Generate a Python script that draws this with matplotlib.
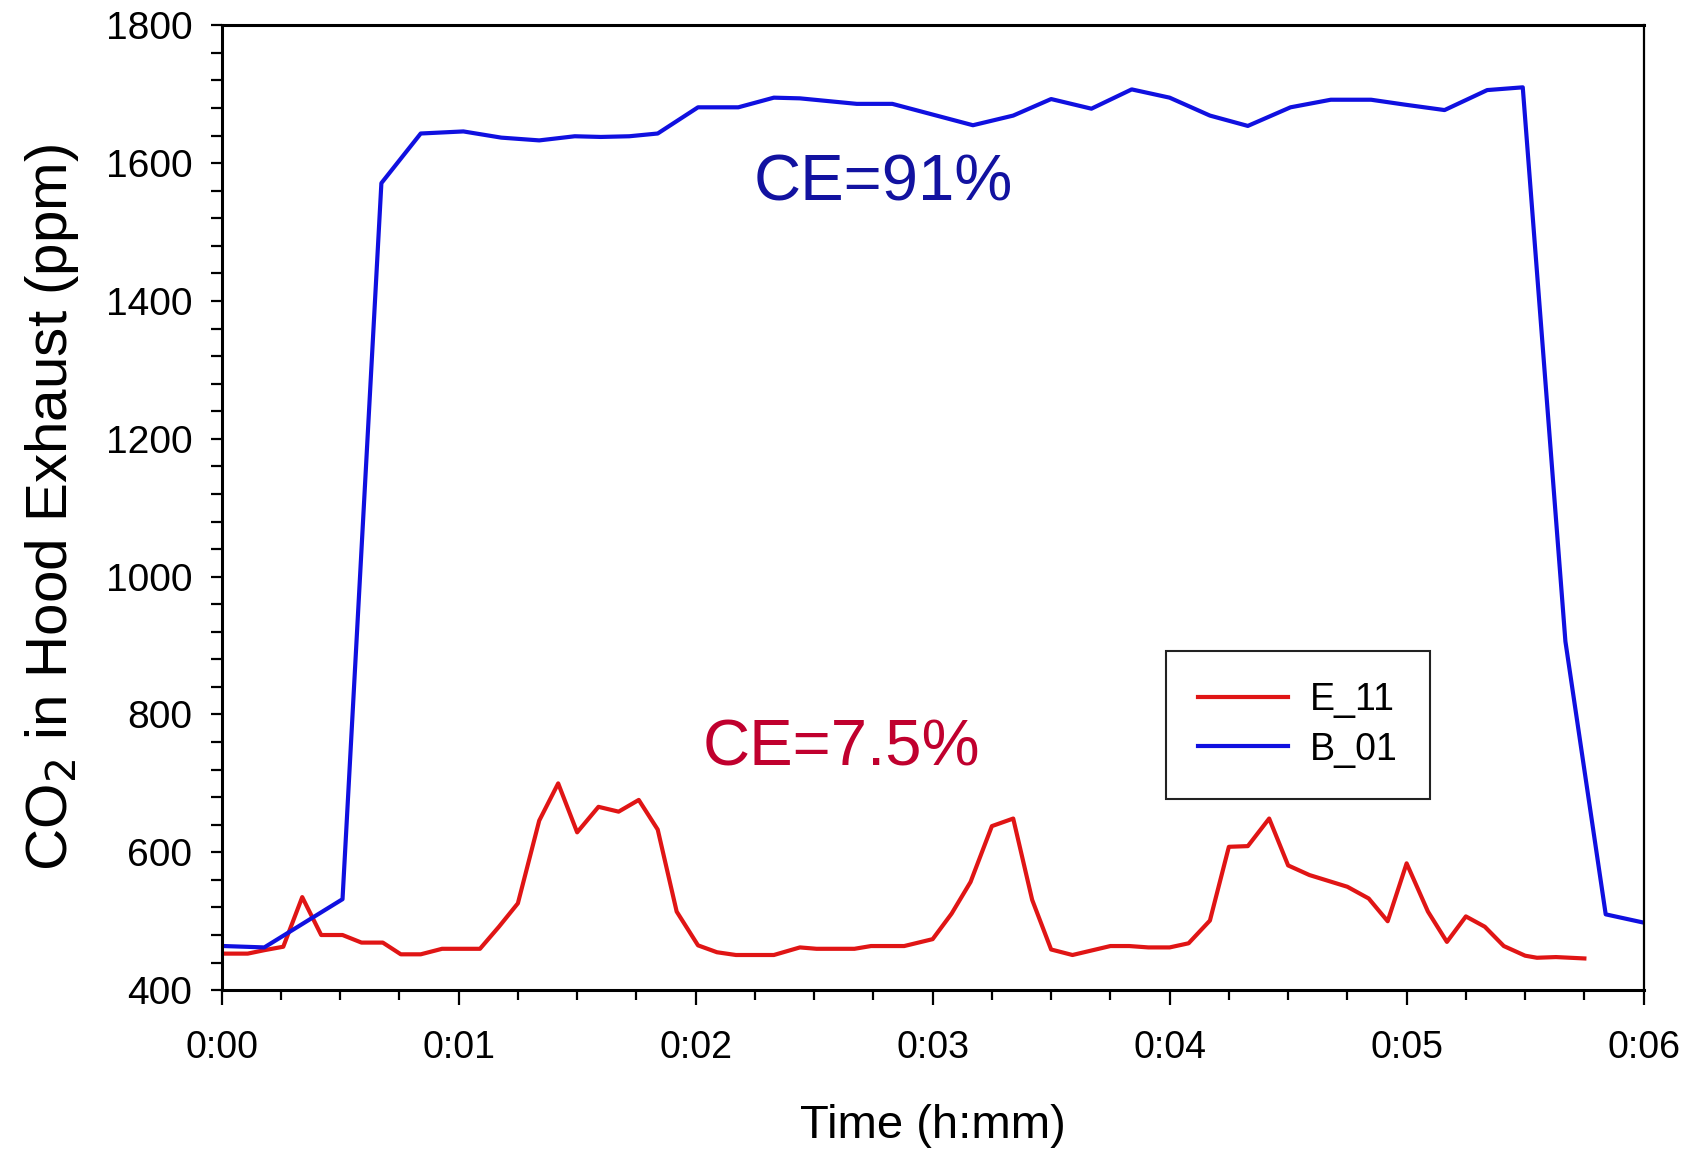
import matplotlib.pyplot as plt
from matplotlib.ticker import MultipleLocator

plt.rcParams['font.family'] = ['Liberation Sans', 'DejaVu Sans']

# time in minutes, CO2 in ppm
b01_t = [0.01, 0.18, 0.51, 0.674, 0.84, 1.02, 1.18, 1.34, 1.49, 1.60, 1.72, 1.84,
         2.01, 2.18, 2.33, 2.44, 2.68, 2.83, 3.17, 3.34, 3.50, 3.67, 3.84, 4.00,
         4.17, 4.33, 4.51, 4.68, 4.85, 4.99, 5.16, 5.34, 5.49, 5.67, 5.84, 6.00]
b01_co2 = [464, 462, 532, 1571, 1643, 1646, 1637, 1633, 1639, 1638, 1639, 1643,
           1681, 1681, 1695, 1694, 1686, 1686, 1655, 1669, 1693, 1679, 1707, 1695,
           1669, 1654, 1681, 1692, 1692, 1685, 1677, 1706, 1710, 906, 510, 498]

e11_t = [0.01, 0.11, 0.18, 0.26, 0.34, 0.42, 0.51, 0.59, 0.68, 0.756, 0.84, 0.93,
         1.09, 1.17, 1.25, 1.34, 1.42, 1.50, 1.59, 1.675, 1.76, 1.84, 1.92, 2.01,
         2.09, 2.17, 2.33, 2.44, 2.51, 2.67, 2.74, 2.88, 3.00, 3.08, 3.16, 3.25,
         3.34, 3.42, 3.50, 3.59, 3.75, 3.83, 3.91, 4.00, 4.08, 4.17, 4.25, 4.33,
         4.42, 4.50, 4.59, 4.75, 4.84, 4.92, 5.00, 5.09, 5.17, 5.25, 5.33, 5.41,
         5.50, 5.55, 5.63, 5.75]
e11_co2 = [453, 453, 458, 463, 535, 480, 480, 469, 469, 452, 452, 460,
           460, 492, 526, 646, 700, 629, 666, 659, 676, 633, 514, 465,
           455, 451, 451, 462, 460, 460, 464, 464, 474, 511, 557, 638,
           649, 531, 459, 451, 464, 464, 462, 462, 468, 501, 608, 609,
           649, 581, 567, 550, 533, 500, 584, 514, 470, 507, 492, 464,
           450, 447, 448, 446]

xtick_pos = [0, 1, 2, 3, 4, 5, 6]
xtick_labels = ["0:00", "0:01", "0:02", "0:03", "0:04", "0:05", "0:06"]

fig = plt.figure(figsize=(17.05, 11.5), dpi=100)
ax = fig.add_axes([0.130, 0.139, 0.834, 0.839])

ax.plot(e11_t, e11_co2, color="#e01515", lw=3, label="E_11")
ax.plot(b01_t, b01_co2, color="#1010e0", lw=3, label="B_01")

ax.set_xlim(0, 6)
ax.set_ylim(400, 1800)
ax.set_xticks(xtick_pos)
ax.set_xticklabels(xtick_labels)
ax.xaxis.set_minor_locator(MultipleLocator(0.25))
ax.yaxis.set_major_locator(MultipleLocator(200))
ax.yaxis.set_minor_locator(MultipleLocator(40))

ax.tick_params(axis="x", which="major", direction="out", length=11, width=1.6,
               labelsize=27, pad=18)
ax.tick_params(axis="x", which="minor", direction="out", length=7, width=1.6)
ax.tick_params(axis="y", which="both", direction="out", length=8, width=1.6,
               labelsize=28, pad=13)

for s in ["left", "bottom", "top"]:
    ax.spines[s].set_linewidth(2.2)
ax.spines["right"].set_linewidth(1.6)

ax.set_xlabel("Time (h:mm)", fontsize=34, labelpad=27)
ax.set_ylabel("CO$_2$ in Hood Exhaust (ppm)", fontsize=42, labelpad=18)

ax.text(2.79, 1570, "CE=91%", color="#1212a0", fontsize=47, ha="center", va="center")
ax.text(2.615, 751, "CE=7.5%", color="#c0002e", fontsize=47, ha="center", va="center")

leg = ax.legend(loc="upper left", bbox_to_anchor=(0.664, 0.352), borderaxespad=0,
                fontsize=27, fancybox=False, edgecolor="#222222", framealpha=1,
                handlelength=2.4, borderpad=0.85, labelspacing=0.35, handletextpad=0.6)
leg.get_frame().set_linewidth(1.5)

fig.savefig("out.png", dpi=100)
